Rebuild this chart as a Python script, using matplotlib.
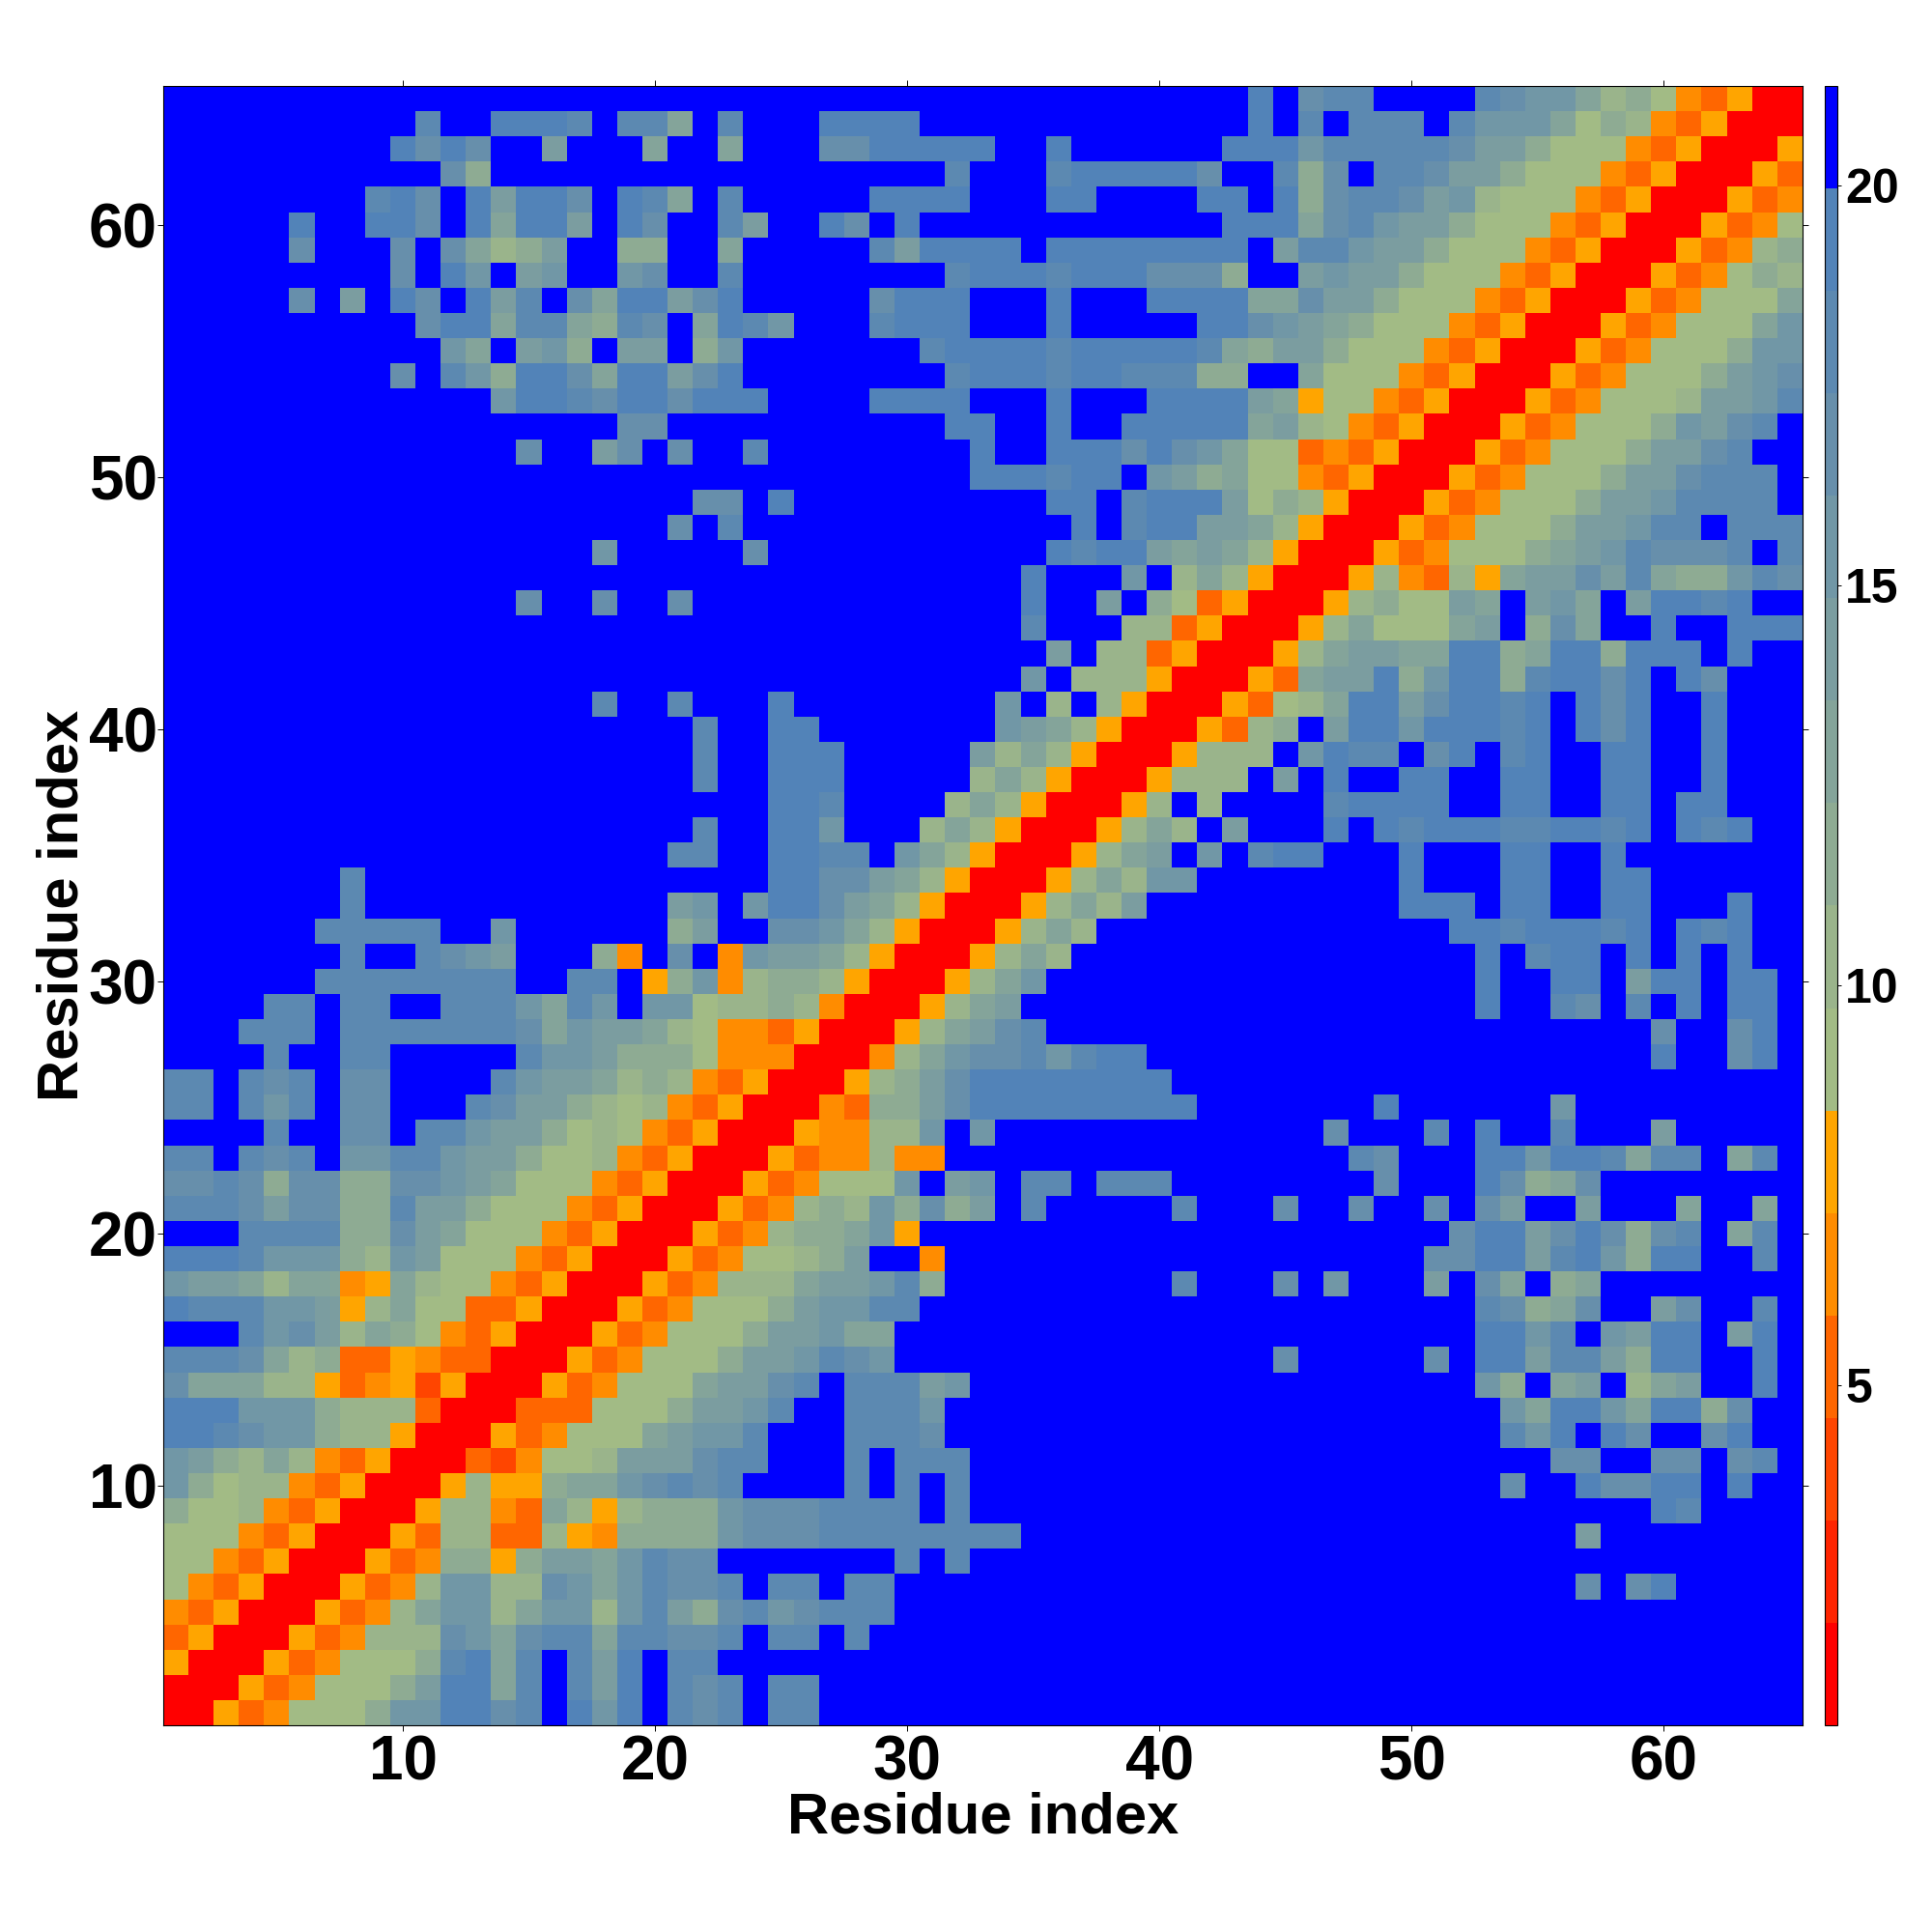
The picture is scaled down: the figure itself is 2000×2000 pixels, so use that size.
import numpy as np
import matplotlib
matplotlib.use('Agg')
import matplotlib.pyplot as plt
from matplotlib.colors import ListedColormap, BoundaryNorm

plt.rcParams['font.family'] = ['Liberation Sans', 'DejaVu Sans']

# colour level of each cell (0 = red ... f = blue), rows are residue 1..65,
# each row starts on the diagonal, the map is symmetric
rows = [
    "005346668bbeecdfebefdc" "dfddfffffffffffffffff" "ffffffffffffffffffffff",
    "005346668aee9dfdaefdc" "dfddfffffffffffffffff" "ffffffffffffffffffffff",
    "005346668de9dfdaefdd" "fffffffffffffffffffff" "ffffffffffffffffffffff",
    "00534777cb9cdd9ddcc" "dfddfdfffffffffffffff" "ffffffffffffffffffffff",
    "0053479bb79bb7bda8" "cdbcdddffffffffffffff" "ffffffffffffffffffffff",
    "005347bb77cb9bdcc" "dfddfddffffffffffffff" "fffffffffffffcfcefffff",
    "005348858aa9bdcc" "fffffffdfdfffffffffff" "ffffffffffffffffffffff",
    "005377337548888" "bcccddddddddfffffffff" "fffffffffffffaffffffff",
    "00577439757888" "bcccddddfdfffffffffff" "ffffffffffffffffedffff",
    "005755899bcdc" "dffffdfdfdfffffffffff" "ffffffffffcffecceefeff",
    "00324667aaac" "ddfffdfdddfffffffffff" "ffffffffffffccffccfcdf",
    "005346669ab" "bdfffdddcffffffffffff" "ffffffffffdbefecffceff",
    "003336668a" "abdffdddbffffffffffff" "ffffffffffb9eeb9ee8cff",
    "005346669" "aacdfdddabfffffffffff" "fffffffffb8f9af79affef",
    "00534666" "8aabdcbffffffffffffff" "fcfffffcfeeadda8eeffef",
    "0053466" "68aab99ffffffffffffff" "fffffffffeebdfbaeefaef",
    "005346" "668abbddfffffffffffff" "fffffffffdc89cffacffdf",
    "00534" "7779aabd8fffffffffdff" "fcfbfffafc9f89ffffffff",
    "0053" "46678aff4ffffffffffff" "fffffffcceeadeb8eeffdf",
    "005" "347889b5fffffffffffff" "ffffffffceeacec8cdf9df",
    "00" "534787b8c8afdfffffdff" "fcffcffcfcaffafff9ff9f",
    "0" "0534666bfabfddfdddfff" "fffffcfffec89cffffffff",
    "005344744ffffffffffff" "ffffdcfffeebeed9ddf9df",
    "0054477bfbffffffffff" "fffcfffdfeffdfffafffff",
    "004388aceeeeeeeeeff" "fffffeffffffbfffffffff",
    "00578aceeeeeeeefff" "ffffffffffffffffffffff",
    "00479bccdbdeeffff" "ffffffffffffffffeffcef",
    "00579acdffffffff" "ffffffffffffffffcffcef",
    "00579afffffffff" "fffffffffeffdcfdfefeef",
    "00579bffffffff" "fffffffffeffeefaeefeef",
    "005797fffffff" "fffffffffefdeefefefeff",
    "005797ffffff" "ffffffffeedeeedefedeff",
    "005797affff" "ffffffeeefeeffeefffeff",
    "005797bbff" "ffffffefffeeffeeffffff",
    "00579afbf" "deefffefffeeffefffffff",
    "005797fa" "fffefedeeeddeedefedeff",
    "0057f7f" "fffdeeeeffeeffeefeefff",
    "005777" "fafeffeeffeeffeeffefff",
    "00577" "7fbeddfcefdeffeeffefff",
    "0053" "78faeebeeedefeceffefff",
    "005" "3679eeaceedefeceffefff",
    "00" "539aae8bee8deecefecfff",
    "0" "0579aa99ee89ee8eeefeff",
    "0057966" "69af8c9ffeffeee",
    "0057866a9fab9faeedeff",
    "00574375" "9aacad988bdc",
    "005346668" "9abdcccdfd",
    "005346668" "aabddfddd",
    "005346668aabddddf",
    "005346668aacdddf",
    "005346668aacdff",
    "005346668bacdf",
    "005346667aabd",
    "005346668abc",
    "005346668bb",
    "005346669b",
    "005346669",
    "00534687",
    "0053478",
    "005346",
    "00534",
    "0053",
    "005",
    "00",
    "0",
]

level_colors = ['#ff0000', '#ff2400', '#ff4500', '#ff6600', '#ff8c00', '#ffa500',
                '#a2bb85', '#9ab48b', '#8eab93', '#84a49a', '#7b9da0', '#7197a6',
                '#678fab', '#5c89b1', '#5283b8', '#0000ff']
bar_ticks = [5, 10, 15, 20]
axis_ticks = [10, 20, 30, 40, 50, 60]

n = len(rows)
for y, r in enumerate(rows):
    assert len(r) == n - y, (y + 1, len(r), n - y)

vmin, vmax = 0.75, 21.25
step = (vmax - vmin) / len(level_colors)
codes = np.zeros((n, n), dtype=int)
for y, r in enumerate(rows):
    for k, c in enumerate(r):
        codes[y, y + k] = int(c, 16)
        codes[y + k, y] = int(c, 16)
values = vmin + (codes + 0.5) * step

cmap = ListedColormap(level_colors)
norm = BoundaryNorm(np.linspace(vmin, vmax, len(level_colors) + 1), cmap.N)

fig = plt.figure(figsize=(20, 20), dpi=100)
ax = fig.add_axes([0.0845, 0.107, 0.8485, 0.8485])
im = ax.imshow(values, origin='lower', cmap=cmap, norm=norm, aspect='auto',
               interpolation='nearest', extent=(0.5, n + 0.5, 0.5, n + 0.5))
ax.set_xticks(axis_ticks)
ax.set_yticks(axis_ticks)
ax.tick_params(axis='both', which='major', direction='out', length=4, width=0.7,
               top=True, right=True, labelsize=46, pad=3)
ax.tick_params(axis='y', pad=0.5)
for t in ax.get_xticklabels() + ax.get_yticklabels():
    t.set_fontweight('bold')
ax.set_xlabel('Residue index', fontsize=43, fontweight='bold', labelpad=-1)
ax.set_ylabel('Residue index', fontsize=43, fontweight='bold', labelpad=-0.5)
for s in ax.spines.values():
    s.set_linewidth(0.8)

cax = fig.add_axes([0.9445, 0.107, 0.0065, 0.8485])
cb = fig.colorbar(im, cax=cax, ticks=bar_ticks, spacing='proportional', drawedges=False)
cb.ax.minorticks_off()
cb.ax.tick_params(length=3, width=0.7, labelsize=36, pad=3)
for t in cb.ax.get_yticklabels():
    t.set_fontweight('bold')
cb.outline.set_linewidth(0.8)

fig.savefig('out.png', dpi=100)
